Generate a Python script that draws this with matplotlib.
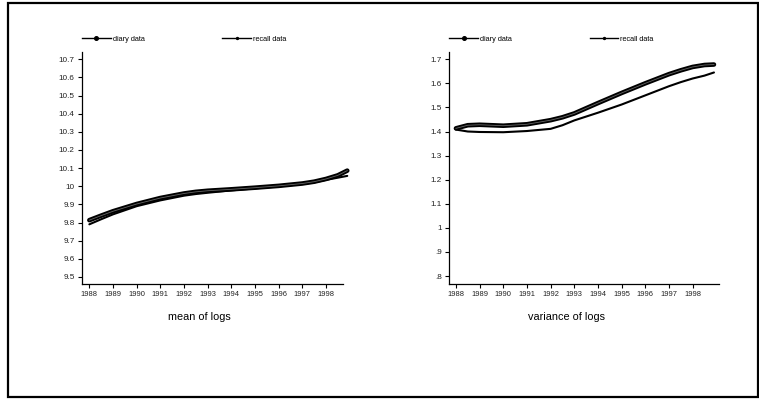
import matplotlib
matplotlib.use("Agg")
import matplotlib.pyplot as plt
from matplotlib.patches import Rectangle
from matplotlib.lines import Line2D

plt.rcParams["font.family"] = ["Liberation Sans", "DejaVu Sans"]

# ---- data ----
years = [1988, 1988.5, 1989, 1990, 1991, 1992, 1992.5, 1993, 1994, 1995, 1996, 1997, 1997.5, 1998, 1998.5, 1998.9]

mean_diary = [9.813, 9.838, 9.862, 9.902, 9.935, 9.960, 9.969, 9.975, 9.983, 9.992, 10.002, 10.015, 10.025, 10.040, 10.060, 10.086]
mean_recall = [9.790, 9.818, 9.845, 9.890, 9.922, 9.948, 9.957, 9.964, 9.977, 9.988, 9.999, 10.012, 10.021, 10.035, 10.047, 10.057]

var_diary = [1.413, 1.426, 1.428, 1.424, 1.430, 1.447, 1.459, 1.475, 1.518, 1.560, 1.600, 1.638, 1.654, 1.668, 1.676, 1.678]
var_recall = [1.408, 1.400, 1.398, 1.397, 1.402, 1.411, 1.426, 1.446, 1.478, 1.512, 1.550, 1.588, 1.605, 1.620, 1.632, 1.645]

xticks = list(range(1988, 1999))
mean_yticks = [9.5, 9.6, 9.7, 9.8, 9.9, 10.0, 10.1, 10.2, 10.3, 10.4, 10.5, 10.6, 10.7]
mean_ylabels = ["9.5", "9.6", "9.7", "9.8", "9.9", "10", "10.1", "10.2", "10.3", "10.4", "10.5", "10.6", "10.7"]
var_yticks = [0.8, 0.9, 1.0, 1.1, 1.2, 1.3, 1.4, 1.5, 1.6, 1.7]
var_ylabels = [".8", ".9", "1", "1.1", "1.2", "1.3", "1.4", "1.5", "1.6", "1.7"]
series_names = ["diary data", "recall data"]
titles = ["mean of logs", "variance of logs"]

W, H = 759, 399
fig = plt.figure(figsize=(W / 100, H / 100), dpi=100)

# outer frame
fig.patches.append(Rectangle((7.5 / W, 2.5 / H), 750 / W, 394 / H, transform=fig.transFigure,
                             fill=False, lw=1.6, ec="black"))

def px_axes(x0, x1, y0, y1):
    return fig.add_axes([x0 / W, 1 - y1 / H, (x1 - x0) / W, (y1 - y0) / H])

axL = px_axes(82, 343, 52, 284)
axR = px_axes(449.3, 718.7, 52, 284)

panels = [
    (axL, mean_diary, mean_recall, (1987.69, 1998.72), (9.461, 10.74), mean_yticks, mean_ylabels, 0.45, titles[0]),
    (axR, var_diary, var_recall, (1987.72, 1999.1), (0.767, 1.73), var_yticks, var_ylabels, 0.435, titles[1]),
]

for ax, d, r, xl, yl, yt, ytl, tx, title in panels:
    ax.plot(years, d, color="black", lw=3.3, solid_capstyle="round", clip_on=False, zorder=2)
    ax.plot(years, d, color="#666666", lw=0.6, clip_on=False, zorder=3)
    ax.plot(years, r, color="black", lw=1.5, solid_capstyle="round", clip_on=False, zorder=2)
    ax.set_xlim(*xl)
    ax.set_ylim(*yl)
    ax.set_xticks(xticks)
    ax.set_xticklabels([str(x) for x in xticks], fontsize=5.4, color="#222222")
    ax.set_yticks(yt)
    ax.set_yticklabels(ytl, fontsize=5.9, color="#222222")
    for s in ["top", "right"]:
        ax.spines[s].set_visible(False)
    for s in ["left", "bottom"]:
        ax.spines[s].set_linewidth(0.9)
    ax.tick_params(axis="both", direction="out", length=3, width=0.8, pad=2.2)
    ax.text(tx, -33 / 232, title, transform=ax.transAxes, ha="center", va="center", fontsize=7.8)

    h1 = Line2D([0], [0], color="black", lw=1.0, marker="o", ms=2.6)
    h2 = Line2D([0], [0], color="black", lw=1.0, marker="o", ms=1.4)
    ax.legend([h1, h2], series_names, loc="center left", bbox_to_anchor=(0.0, 1 + 13 / 232),
              ncol=2, frameon=False, fontsize=5.3, handlelength=3.9, handletextpad=0.25,
              columnspacing=10.6, borderpad=0, borderaxespad=0)

fig.savefig("out.png", dpi=100)
